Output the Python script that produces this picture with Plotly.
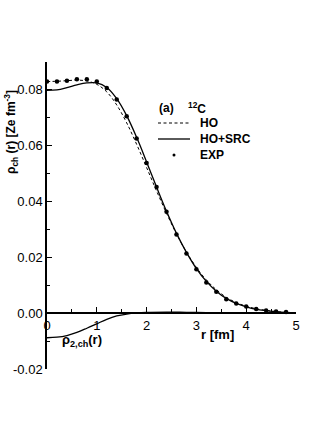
import plotly.graph_objects as go

# radial grid (fm)
r_th = [0.0, 0.2, 0.4, 0.6, 0.8, 1.0, 1.2, 1.4, 1.6, 1.8, 2.0, 2.2, 2.4, 2.6,
        2.8, 3.0, 3.2, 3.4, 3.6, 3.8, 4.0, 4.2, 4.4, 4.6, 4.8, 5.0]

# HO charge density
rho_ho = [0.0830, 0.0831, 0.0833, 0.0835, 0.0832, 0.0820, 0.0793, 0.0746,
          0.0682, 0.0605, 0.0522, 0.0438, 0.0358, 0.0284, 0.0219, 0.0164,
          0.0119, 0.0084, 0.0057, 0.0038, 0.0025, 0.0016, 0.0010, 0.0006,
          0.0003, 0.0002]

# HO+SRC charge density
rho_src = [0.0798, 0.0800, 0.0808, 0.0818, 0.0825, 0.0825, 0.0809, 0.0769,
           0.0708, 0.0630, 0.0542, 0.0452, 0.0365, 0.0286, 0.0218, 0.0160,
           0.0114, 0.0079, 0.0053, 0.0035, 0.0023, 0.0014, 0.0009, 0.0005,
           0.0003, 0.0002]

# experimental points
r_exp = [0.0, 0.2, 0.4, 0.6, 0.8, 1.0, 1.2, 1.4, 1.6, 1.8, 2.0, 2.2, 2.4,
         2.6, 2.8, 3.0, 3.2, 3.4, 3.6, 3.8, 4.0, 4.2, 4.4, 4.6, 4.8]
rho_exp = [0.0830, 0.0830, 0.0833, 0.0838, 0.0838, 0.0830, 0.0807, 0.0766,
           0.0706, 0.0626, 0.0538, 0.0452, 0.0363, 0.0282, 0.0214, 0.0157,
           0.0110, 0.0077, 0.0050, 0.0035, 0.0024, 0.0015, 0.0010, 0.0006,
           0.0004]

# two-body term rho_2,ch
r_2 = [0.0, 0.2, 0.4, 0.6, 0.8, 1.0, 1.2, 1.4, 1.6, 1.8, 2.0, 2.4, 2.8,
       3.2, 3.6, 4.0, 5.0]
rho_2 = [-0.0088, -0.0086, -0.0080, -0.0069, -0.0054, -0.0038, -0.0022,
         -0.0010, -0.0003, 0.0001, 0.0003, 0.0004, 0.0003, 0.0002, 0.0001,
         0.0000, 0.0000]

# y tick labels (plain hyphen minus, as in the original)
y_tickvals = [-0.02, 0.0, 0.02, 0.04, 0.06, 0.08]
y_ticktext = ["-0.02", "0.00", "0.02", "0.04", "0.06", "0.08"]

FONT = "Liberation Sans, Arial, sans-serif"

fig = go.Figure()
fig.add_trace(go.Scatter(x=r_th, y=rho_ho, mode="lines", line_shape="spline",
                         line=dict(color="black", width=1, dash="3px,2.5px")))
fig.add_trace(go.Scatter(x=r_th, y=rho_src, mode="lines", line_shape="spline",
                         line=dict(color="black", width=1.3)))
fig.add_trace(go.Scatter(x=r_2, y=rho_2, mode="lines", line_shape="spline",
                         line=dict(color="black", width=1.3)))
fig.add_trace(go.Scatter(x=r_exp, y=rho_exp, mode="markers",
                         marker=dict(color="black", size=4.5)))

fig.update_layout(
    width=327, height=436,
    margin=dict(l=47, r=31, t=62, b=67),
    plot_bgcolor="white", paper_bgcolor="white",
    showlegend=False,
    font=dict(family=FONT, size=13, color="black"),
)
fig.update_xaxes(
    range=[0, 5], anchor="free", position=0.02 / 0.11, automargin=False,
    showline=True, linecolor="black", linewidth=1.5,
    showgrid=False, zeroline=False,
    tickmode="linear", tick0=0, dtick=1,
    ticks="inside", ticklen=5, tickcolor="black", tickwidth=1,
    minor=dict(dtick=0.5, ticks="inside", ticklen=3, tickcolor="black"),
    tickfont=dict(size=13),
)
fig.update_yaxes(
    range=[-0.02, 0.09], automargin=False,
    showline=True, linecolor="black", linewidth=1.5,
    showgrid=False, zeroline=False,
    tickmode="array", tickvals=y_tickvals, ticktext=y_ticktext,
    ticks="inside", ticklen=5, tickcolor="black", tickwidth=1,
    minor=dict(tickmode="linear", tick0=-0.02, dtick=0.01, ticks="inside",
               ticklen=3, tickcolor="black"),
    tickfont=dict(size=13),
)

# helpers: pixel -> paper fraction (plot area 47..296 x 62..369)
px = lambda v: (v - 47) / 249
py = lambda v: (369 - v) / 307

# axis titles / labels
fig.add_annotation(xref="paper", yref="paper", x=px(11), y=py(132),
                   xanchor="center", yanchor="middle",
                   text="<b>ρ<sub>ch</sub> (r) [Ze fm<sup>-3</sup>]</b>",
                   textangle=-90, showarrow=False, font=dict(size=12))
fig.add_annotation(x=3.42, y=-0.0078, text="<b>r [fm]</b>", showarrow=False,
                   font=dict(size=13))
fig.add_annotation(x=0.7, y=-0.0098, text="<b>ρ<sub>2,ch</sub>(r)</b>",
                   showarrow=False, font=dict(size=13))

# legend drawn by hand
fig.add_annotation(xref="paper", yref="paper", x=px(157), y=py(108),
                   xanchor="left", yanchor="middle",
                   text="<b>(a)</b>", showarrow=False, font=dict(size=12))
fig.add_annotation(xref="paper", yref="paper", x=px(186), y=py(108),
                   xanchor="left", yanchor="middle",
                   text="<b><sup>12</sup>C</b>", showarrow=False, font=dict(size=12))
labels = ["HO", "HO+SRC", "EXP"]
rows = [123, 139, 155]
for lab, yy in zip(labels, rows):
    fig.add_annotation(xref="paper", yref="paper", x=px(198), y=py(yy),
                       xanchor="left", yanchor="middle",
                       text="<b>%s</b>" % lab, showarrow=False, font=dict(size=12))
fig.add_shape(type="line", xref="paper", yref="paper", x0=px(158), x1=px(190),
              y0=py(123), y1=py(123), line=dict(color="black", width=1, dash="3px,2.5px"))
fig.add_shape(type="line", xref="paper", yref="paper", x0=px(158), x1=px(190),
              y0=py(139), y1=py(139), line=dict(color="black", width=1.3))
fig.add_shape(type="circle", xref="paper", yref="paper", x0=px(172.5), x1=px(175.5),
              y0=py(156.5), y1=py(153.5), fillcolor="black", line=dict(color="black", width=0))

# drop the default 8px page margin so the figure sits at the window corner
fig.write_html("out.html", config={"displayModeBar": False},
               post_script="document.body.style.margin='0';")
